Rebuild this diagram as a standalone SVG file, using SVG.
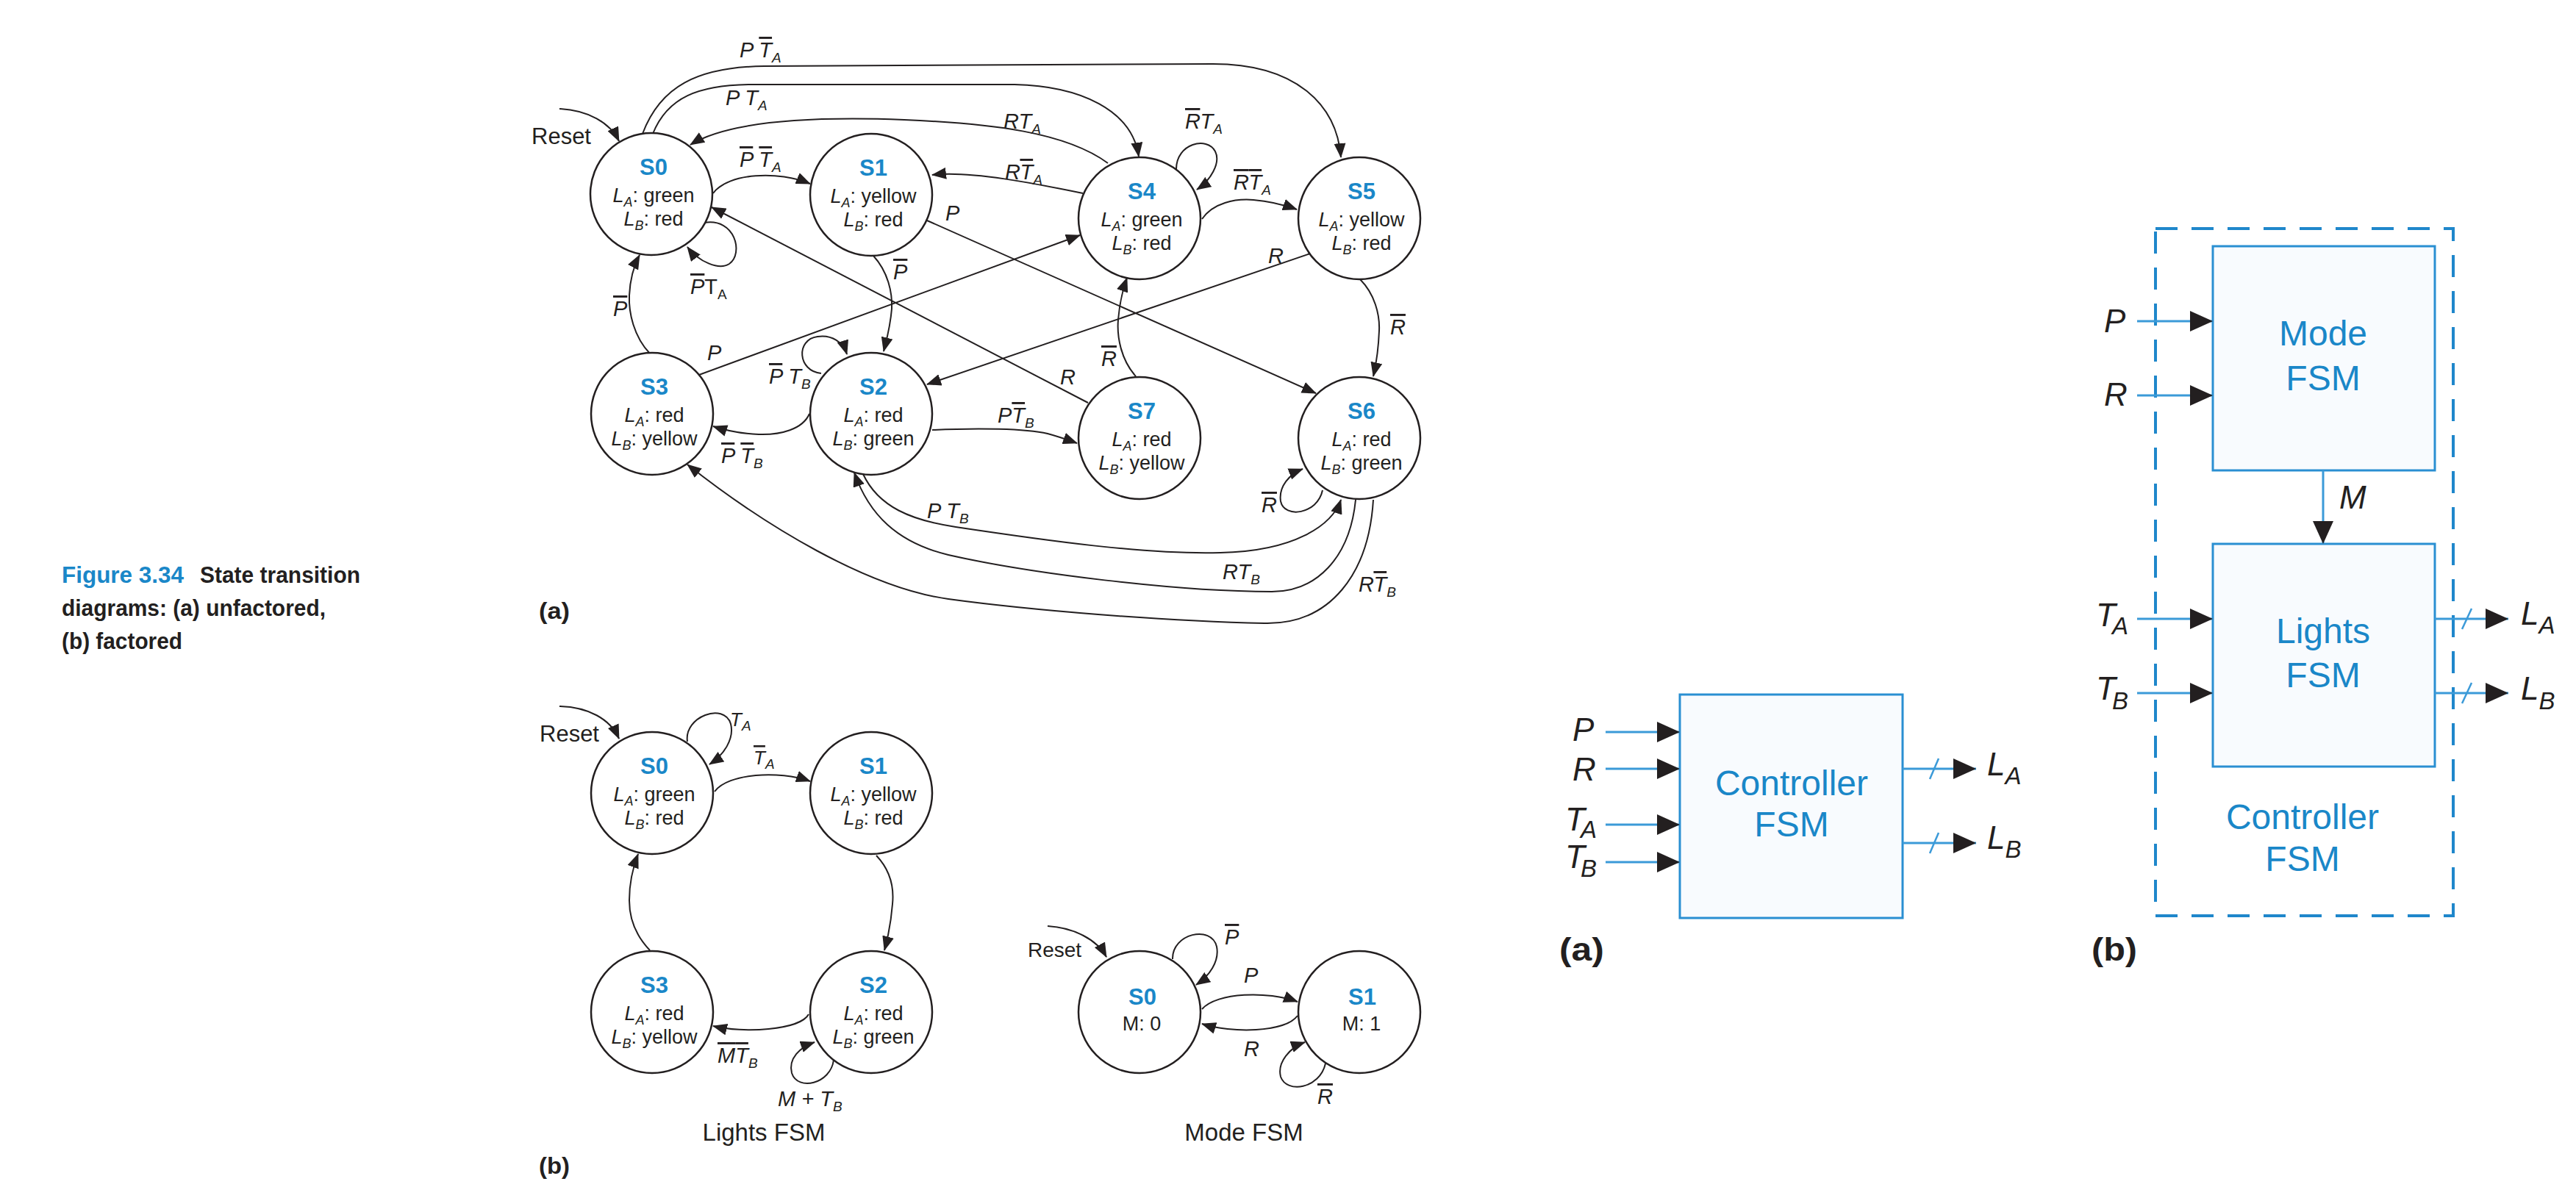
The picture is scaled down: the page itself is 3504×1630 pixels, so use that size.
<svg xmlns="http://www.w3.org/2000/svg" width="3504" height="1630" viewBox="0 0 3504 1630">
<defs>
<style>
text{font-family:"Liberation Sans",Arial,sans-serif;fill:#231f20}
.nn{font-weight:bold;font-size:31px;fill:#1a87c8;text-anchor:middle}
.nt{font-size:27px;text-anchor:middle}
.it{font-style:italic}
.ns{font-size:18px;font-style:italic}
.lb{font-size:29px;font-style:italic}
.lb26{font-size:26px;font-style:italic}
.ls{font-size:19px}
.up{font-style:normal}
.ov{text-decoration:overline}
.st{fill:#fff;stroke:#231f20;stroke-width:2.5}
.cn{fill:none;stroke:#231f20;stroke-width:2;marker-end:url(#ah)}
.cap{font-weight:bold;font-size:32px}
.blue{fill:#1a87c8}
.pl{font-weight:bold;font-size:32px}
.pl2{font-weight:bold;font-size:44px}
.bx{fill:#f8fbfe;stroke:#2a8fd2;stroke-width:3}
.bt{font-size:48px;fill:#1a87c8;text-anchor:middle}
.bl{fill:none;stroke:#3b9ad8;stroke-width:3;marker-end:url(#bh)}
.sl{fill:none;stroke:#3b9ad8;stroke-width:2.5}
.bi{font-size:44px;font-style:italic}
.bs{font-size:33px}
.dash{fill:none;stroke:#1f87cb;stroke-width:4;stroke-dasharray:30 19}
.rs{font-size:31px}
.rs28{font-size:28px}
.fl{font-size:33px;text-anchor:middle}
</style>
<marker id="ah" markerUnits="userSpaceOnUse" markerWidth="20" markerHeight="16" refX="19" refY="8" orient="auto"><path d="M0,0 L20,8 L0,16 z" fill="#231f20"/></marker>
<marker id="bh" markerUnits="userSpaceOnUse" markerWidth="32" markerHeight="30" refX="31" refY="15" orient="auto"><path d="M0,1 L31,15 L0,29 z" fill="#231f20"/></marker>
</defs>
<rect width="3504" height="1630" fill="#fff"/>

<g id="caption">
<text class="cap blue" x="84" y="793" textLength="166" lengthAdjust="spacingAndGlyphs">Figure 3.34</text>
<text class="cap" x="272" y="793" textLength="218" lengthAdjust="spacingAndGlyphs">State transition</text>
<text class="cap" x="84" y="838" textLength="359" lengthAdjust="spacingAndGlyphs">diagrams: (a) unfactored,</text>
<text class="cap" x="84" y="883" textLength="164" lengthAdjust="spacingAndGlyphs">(b) factored</text>
</g>

<g id="panel-labels">
<text class="pl" x="733" y="842" textLength="42" lengthAdjust="spacingAndGlyphs">(a)</text>
<text class="pl" x="733" y="1597" textLength="42" lengthAdjust="spacingAndGlyphs">(b)</text>
<text class="pl2" x="2121" y="1307" textLength="61" lengthAdjust="spacingAndGlyphs">(a)</text>
<text class="pl2" x="2845" y="1307" textLength="62" lengthAdjust="spacingAndGlyphs">(b)</text>
</g>

<!-- ===== Unfactored FSM (a) ===== -->
<g id="connectors-a">
<path class="cn" d="M874,182 C898,118 948,91 1040,90 L1650,87 C1760,87 1818,140 1824,214"/>
<path class="cn" d="M888,182 C908,132 950,116 1020,115 L1380,115 C1470,117 1540,150 1549,213"/>
<path class="cn" d="M1507,222 C1450,180 1350,168 1230,163 C1100,158 990,165 939,197"/>
<path class="cn" d="M1473,263 C1410,250 1320,232 1268,238"/>
<path class="cn" d="M970,263 C990,235 1060,232 1102,250"/>
<path class="cn" d="M958,303 C1000,296 1012,345 992,359 C978,368 950,356 935,336"/>
<path class="cn" d="M884,481 C862,458 855,425 856,402 C857,380 862,362 870,347"/>
<path class="cn" d="M1188,348 C1208,370 1214,398 1213,420 C1211,445 1206,462 1202,478"/>
<path class="cn" d="M1480,548 L968,282"/>
<path class="cn" d="M951,510 L1469,320"/>
<path class="cn" d="M1261,300 L1790,535"/>
<path class="cn" d="M1782,345 L1261,523"/>
<path class="cn" d="M1545,512 C1525,490 1519,458 1521,435 C1523,410 1528,392 1533,378"/>
<path class="cn" d="M1600,230 C1600,195 1642,185 1653,206 C1661,222 1646,246 1628,258"/>
<path class="cn" d="M1635,298 C1650,276 1680,270 1705,272 C1730,274 1750,280 1764,285"/>
<path class="cn" d="M1850,380 C1870,400 1877,428 1876,450 C1875,475 1872,495 1868,512"/>
<path class="cn" d="M1117,508 C1085,505 1082,462 1112,458 C1132,455 1147,466 1152,482"/>
<path class="cn" d="M1101,563 C1092,584 1062,592 1032,591 C1008,590 988,586 970,580"/>
<path class="cn" d="M1268,585 C1330,582 1395,583 1425,590 C1440,594 1454,599 1465,603"/>
<path class="cn" d="M1799,667 C1792,700 1747,706 1742,682 C1739,662 1754,645 1772,638"/>
<path class="cn" d="M1174,645 C1195,690 1240,708 1300,717 C1420,735 1560,755 1660,752 C1760,750 1812,715 1824,680"/>
<path class="cn" d="M1844,680 C1836,760 1790,805 1730,805 C1600,805 1400,780 1290,755 C1220,738 1182,700 1162,643"/>
<path class="cn" d="M1868,680 C1862,780 1810,850 1720,848 C1580,845 1400,830 1290,815 C1180,800 1040,715 935,632"/>
<path class="cn" d="M761,148 C800,150 830,167 842,192"/>
</g>

<g id="edge-labels-a">
<text class="rs" x="723" y="196">Reset</text>
<text class="lb" x="1006" y="78">P <tspan class="ov">T</tspan><tspan class="ls" dy="7">A</tspan></text>
<text class="lb" x="987" y="143">P T<tspan class="ls" dy="7">A</tspan></text>
<text class="lb" x="1006" y="227"><tspan class="ov">P</tspan> <tspan class="ov">T</tspan><tspan class="ls" dy="7">A</tspan></text>
<text class="lb" x="1365" y="175">RT<tspan class="ls" dy="7">A</tspan></text>
<text class="lb" x="1367" y="244">R<tspan class="ov">T</tspan><tspan class="ls" dy="7">A</tspan></text>
<text class="lb" x="1612" y="175"><tspan class="ov">R</tspan>T<tspan class="ls" dy="7">A</tspan></text>
<text class="lb" x="1678" y="258"><tspan class="ov">R</tspan><tspan class="ov">T</tspan><tspan class="ls" dy="7">A</tspan></text>
<text class="lb" x="1286" y="300">P</text>
<text class="lb" x="1215" y="380"><tspan class="ov">P</tspan></text>
<text class="lb" x="1725" y="358">R</text>
<text class="lb" x="1891" y="455"><tspan class="ov">R</tspan></text>
<text class="lb" x="834" y="430"><tspan class="ov">P</tspan></text>
<text class="lb" x="939" y="400"><tspan class="ov">P</tspan><tspan class="up">T</tspan><tspan class="ls up" dy="7">A</tspan></text>
<text class="lb" x="962" y="490">P</text>
<text class="lb" x="1046" y="522"><tspan class="ov">P</tspan> T<tspan class="ls" dy="7">B</tspan></text>
<text class="lb" x="1442" y="523">R</text>
<text class="lb" x="1498" y="498"><tspan class="ov">R</tspan></text>
<text class="lb" x="1357" y="575">P<tspan class="ov">T</tspan><tspan class="ls" dy="7">B</tspan></text>
<text class="lb" x="981" y="630"><tspan class="ov">P</tspan> <tspan class="ov">T</tspan><tspan class="ls" dy="7">B</tspan></text>
<text class="lb" x="1716" y="697"><tspan class="ov">R</tspan></text>
<text class="lb" x="1261" y="705">P T<tspan class="ls" dy="7">B</tspan></text>
<text class="lb" x="1663" y="788">RT<tspan class="ls" dy="7">B</tspan></text>
<text class="lb" x="1848" y="805">R<tspan class="ov">T</tspan><tspan class="ls" dy="7">B</tspan></text>
</g>

<g id="a-S0"><circle class="st" cx="886" cy="264" r="83"/><text class="nn" x="889" y="238">S0</text><text class="nt" x="889" y="275"><tspan class="it">L</tspan><tspan class="ns" dy="6">A</tspan><tspan dy="-6">: green</tspan></text><text class="nt" x="889" y="307"><tspan class="it">L</tspan><tspan class="ns" dy="6">B</tspan><tspan dy="-6">: red</tspan></text></g>
<g id="a-S1"><circle class="st" cx="1185" cy="265" r="83"/><text class="nn" x="1188" y="239">S1</text><text class="nt" x="1188" y="276"><tspan class="it">L</tspan><tspan class="ns" dy="6">A</tspan><tspan dy="-6">: yellow</tspan></text><text class="nt" x="1188" y="308"><tspan class="it">L</tspan><tspan class="ns" dy="6">B</tspan><tspan dy="-6">: red</tspan></text></g>
<g id="a-S4"><circle class="st" cx="1550" cy="297" r="83"/><text class="nn" x="1553" y="271">S4</text><text class="nt" x="1553" y="308"><tspan class="it">L</tspan><tspan class="ns" dy="6">A</tspan><tspan dy="-6">: green</tspan></text><text class="nt" x="1553" y="340"><tspan class="it">L</tspan><tspan class="ns" dy="6">B</tspan><tspan dy="-6">: red</tspan></text></g>
<g id="a-S5"><circle class="st" cx="1849" cy="297" r="83"/><text class="nn" x="1852" y="271">S5</text><text class="nt" x="1852" y="308"><tspan class="it">L</tspan><tspan class="ns" dy="6">A</tspan><tspan dy="-6">: yellow</tspan></text><text class="nt" x="1852" y="340"><tspan class="it">L</tspan><tspan class="ns" dy="6">B</tspan><tspan dy="-6">: red</tspan></text></g>
<g id="a-S3"><circle class="st" cx="887" cy="563" r="83"/><text class="nn" x="890" y="537">S3</text><text class="nt" x="890" y="574"><tspan class="it">L</tspan><tspan class="ns" dy="6">A</tspan><tspan dy="-6">: red</tspan></text><text class="nt" x="890" y="606"><tspan class="it">L</tspan><tspan class="ns" dy="6">B</tspan><tspan dy="-6">: yellow</tspan></text></g>
<g id="a-S2"><circle class="st" cx="1185" cy="563" r="83"/><text class="nn" x="1188" y="537">S2</text><text class="nt" x="1188" y="574"><tspan class="it">L</tspan><tspan class="ns" dy="6">A</tspan><tspan dy="-6">: red</tspan></text><text class="nt" x="1188" y="606"><tspan class="it">L</tspan><tspan class="ns" dy="6">B</tspan><tspan dy="-6">: green</tspan></text></g>
<g id="a-S7"><circle class="st" cx="1550" cy="596" r="83"/><text class="nn" x="1553" y="570">S7</text><text class="nt" x="1553" y="607"><tspan class="it">L</tspan><tspan class="ns" dy="6">A</tspan><tspan dy="-6">: red</tspan></text><text class="nt" x="1553" y="639"><tspan class="it">L</tspan><tspan class="ns" dy="6">B</tspan><tspan dy="-6">: yellow</tspan></text></g>
<g id="a-S6"><circle class="st" cx="1849" cy="596" r="83"/><text class="nn" x="1852" y="570">S6</text><text class="nt" x="1852" y="607"><tspan class="it">L</tspan><tspan class="ns" dy="6">A</tspan><tspan dy="-6">: red</tspan></text><text class="nt" x="1852" y="639"><tspan class="it">L</tspan><tspan class="ns" dy="6">B</tspan><tspan dy="-6">: green</tspan></text></g>

<!-- ===== Lights FSM (b) ===== -->
<g id="connectors-lights">
<path class="cn" d="M761,961 C800,962 830,978 842,1005"/>
<path class="cn" d="M935,1009 C930,975 985,955 994,985 C999,1005 985,1027 965,1040"/>
<path class="cn" d="M972,1077 C990,1052 1060,1048 1102,1063"/>
<path class="cn" d="M1192,1164 C1212,1185 1216,1210 1214,1230 C1212,1255 1208,1275 1203,1293"/>
<path class="cn" d="M1100,1380 C1088,1402 1010,1406 970,1396"/>
<path class="cn" d="M884,1293 C862,1270 856,1245 856,1225 C856,1200 861,1180 868,1162"/>
<path class="cn" d="M1134,1442 C1130,1475 1085,1485 1077,1460 C1072,1440 1088,1425 1108,1418"/>
</g>
<g id="edge-labels-lights">
<text class="rs" x="734" y="1009">Reset</text>
<text class="lb26" x="993" y="988">T<tspan class="ls" dy="6">A</tspan></text>
<text class="lb26" x="1025" y="1040"><tspan class="ov">T</tspan><tspan class="ls" dy="6">A</tspan></text>
<text class="lb" x="976" y="1446"><tspan class="ov">M</tspan><tspan class="ov">T</tspan><tspan class="ls" dy="7">B</tspan></text>
<text class="lb" x="1058" y="1505">M + T<tspan class="ls" dy="7">B</tspan></text>
<text class="fl" x="1039" y="1552">Lights FSM</text>
</g>
<g id="b-S0"><circle class="st" cx="887" cy="1079" r="83"/><text class="nn" x="890" y="1053">S0</text><text class="nt" x="890" y="1090"><tspan class="it">L</tspan><tspan class="ns" dy="6">A</tspan><tspan dy="-6">: green</tspan></text><text class="nt" x="890" y="1122"><tspan class="it">L</tspan><tspan class="ns" dy="6">B</tspan><tspan dy="-6">: red</tspan></text></g>
<g id="b-S1"><circle class="st" cx="1185" cy="1079" r="83"/><text class="nn" x="1188" y="1053">S1</text><text class="nt" x="1188" y="1090"><tspan class="it">L</tspan><tspan class="ns" dy="6">A</tspan><tspan dy="-6">: yellow</tspan></text><text class="nt" x="1188" y="1122"><tspan class="it">L</tspan><tspan class="ns" dy="6">B</tspan><tspan dy="-6">: red</tspan></text></g>
<g id="b-S2"><circle class="st" cx="1185" cy="1377" r="83"/><text class="nn" x="1188" y="1351">S2</text><text class="nt" x="1188" y="1388"><tspan class="it">L</tspan><tspan class="ns" dy="6">A</tspan><tspan dy="-6">: red</tspan></text><text class="nt" x="1188" y="1420"><tspan class="it">L</tspan><tspan class="ns" dy="6">B</tspan><tspan dy="-6">: green</tspan></text></g>
<g id="b-S3"><circle class="st" cx="887" cy="1377" r="83"/><text class="nn" x="890" y="1351">S3</text><text class="nt" x="890" y="1388"><tspan class="it">L</tspan><tspan class="ns" dy="6">A</tspan><tspan dy="-6">: red</tspan></text><text class="nt" x="890" y="1420"><tspan class="it">L</tspan><tspan class="ns" dy="6">B</tspan><tspan dy="-6">: yellow</tspan></text></g>

<!-- ===== Mode FSM ===== -->
<g id="connectors-mode">
<path class="cn" d="M1425,1260 C1460,1262 1492,1278 1505,1302"/>
<path class="cn" d="M1595,1305 C1594,1270 1648,1258 1655,1288 C1659,1308 1645,1328 1627,1340"/>
<path class="cn" d="M1635,1373 C1655,1350 1725,1348 1765,1363"/>
<path class="cn" d="M1765,1382 C1748,1405 1675,1406 1635,1393"/>
<path class="cn" d="M1803,1447 C1795,1482 1750,1488 1742,1465 C1737,1445 1755,1425 1775,1418"/>
</g>
<g id="edge-labels-mode">
<text class="rs28" x="1398" y="1302">Reset</text>
<text class="lb" x="1666" y="1285"><tspan class="ov">P</tspan></text>
<text class="lb" x="1692" y="1337">P</text>
<text class="lb" x="1692" y="1437">R</text>
<text class="lb" x="1792" y="1502"><tspan class="ov">R</tspan></text>
<text class="fl" x="1692" y="1552">Mode FSM</text>
</g>
<g id="m-S0"><circle class="st" cx="1550" cy="1377" r="83"/><text class="nn" x="1554" y="1367">S0</text><text class="nt" x="1553" y="1402">M: 0</text></g>
<g id="m-S1"><circle class="st" cx="1849" cy="1377" r="83"/><text class="nn" x="1853" y="1367">S1</text><text class="nt" x="1852" y="1402">M: 1</text></g>

<!-- ===== Block diagram (a) ===== -->
<g id="blk-controller">
<rect class="bx" x="2285" y="945" width="303" height="304"/>
<text class="bt" x="2437" y="1082">Controller</text>
<text class="bt" x="2437" y="1138">FSM</text>
</g>
<g id="blk-a-wires">
<path class="bl" d="M2184,996 H2285"/>
<path class="bl" d="M2184,1046 H2285"/>
<path class="bl" d="M2184,1122 H2285"/>
<path class="bl" d="M2184,1173 H2285"/>
<path class="bl" d="M2588,1046 H2688"/>
<path class="bl" d="M2588,1147 H2688"/>
<path class="sl" d="M2625,1060 L2637,1032"/>
<path class="sl" d="M2625,1161 L2637,1133"/>
</g>
<g id="blk-a-labels">
<text class="bi" x="2139" y="1008">P</text>
<text class="bi" x="2139" y="1062">R</text>
<text class="bi" x="2129" y="1130">T<tspan class="bs" dx="-6" dy="10">A</tspan></text>
<text class="bi" x="2129" y="1181">T<tspan class="bs" dx="-6" dy="12">B</tspan></text>
<text class="bi" x="2703" y="1055">L<tspan class="bs" dy="12">A</tspan></text>
<text class="bi" x="2703" y="1155">L<tspan class="bs" dy="12">B</tspan></text>
</g>

<!-- ===== Block diagram (b) ===== -->
<g id="blk-outer">
<rect class="dash" x="2932" y="311" width="405" height="935"/>
<text class="bt" x="3132" y="1128">Controller</text>
<text class="bt" x="3132" y="1185">FSM</text>
</g>
<g id="blk-mode">
<rect class="bx" x="3010" y="335" width="302" height="305"/>
<text class="bt" x="3160" y="470">Mode</text>
<text class="bt" x="3160" y="531">FSM</text>
</g>
<g id="blk-lights">
<rect class="bx" x="3010" y="740" width="302" height="303"/>
<text class="bt" x="3160" y="875">Lights</text>
<text class="bt" x="3160" y="935">FSM</text>
</g>
<g id="blk-b-wires">
<path class="bl" d="M2907,437 H3010"/>
<path class="bl" d="M2907,538 H3010"/>
<path class="bl" d="M2907,842 H3010"/>
<path class="bl" d="M2907,943 H3010"/>
<path class="bl" d="M3160,640 V740"/>
<path class="bl" d="M3312,842 H3412"/>
<path class="bl" d="M3312,943 H3412"/>
<path class="sl" d="M3349,856 L3362,828"/>
<path class="sl" d="M3349,957 L3362,929"/>
</g>
<g id="blk-b-labels">
<text class="bi" x="2862" y="452">P</text>
<text class="bi" x="2862" y="552">R</text>
<text class="bi" x="2851" y="852">T<tspan class="bs" dx="-5" dy="11">A</tspan></text>
<text class="bi" x="2851" y="952">T<tspan class="bs" dx="-5" dy="13">B</tspan></text>
<text class="bi" x="3182" y="692">M</text>
<text class="bi" x="3429" y="850">L<tspan class="bs" dy="12">A</tspan></text>
<text class="bi" x="3429" y="952">L<tspan class="bs" dy="13">B</tspan></text>
</g>
</svg>
